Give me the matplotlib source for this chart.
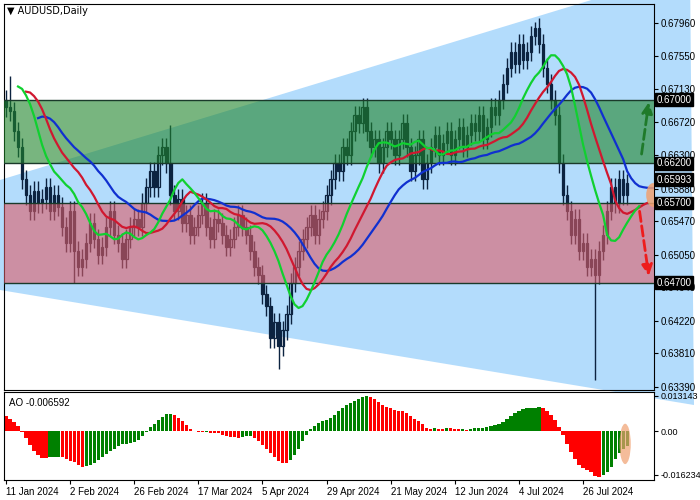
import matplotlib
matplotlib.use("Agg")
import matplotlib.pyplot as plt
import numpy as np
import pandas as pd
from matplotlib.patches import Polygon, Rectangle, Ellipse

plt.rcParams['font.family'] = ['Liberation Sans', 'DejaVu Sans']

# prior history (not drawn as candles, only feeds the indicators)
pre_closes = [0.6360,0.6380,0.6420,0.6450,0.6440,0.6480,0.6520,0.6530,0.6560,0.6570,
              0.6590,0.6610,0.6600,0.6630,0.6650,0.6620,0.6640,0.6610,0.6640,0.6680,
              0.6700,0.6720,0.6730,0.6710,0.6750,0.6780,0.6800,0.6810,0.6790,0.6760,
              0.6730,0.6710,0.6690,0.6700,0.6690]
closes = [0.6690,0.6685,0.6660,0.6640,0.6600,0.6580,0.6560,0.6585,0.6570,0.6575,
          0.6590,0.6560,0.6580,0.6565,0.6540,0.6520,0.6560,0.6510,0.6490,0.6500,
          0.6520,0.6545,0.6525,0.6505,0.6515,0.6540,0.6560,0.6530,0.6520,0.6500,
          0.6525,0.6540,0.6550,0.6540,0.6570,0.6590,0.6610,0.6590,0.6630,0.6640,
          0.6620,0.6580,0.6560,0.6575,0.6545,0.6555,0.6530,0.6540,0.6555,0.6570,
          0.6540,0.6525,0.6550,0.6545,0.6530,0.6515,0.6525,0.6540,0.6555,0.6540,
          0.6530,0.6510,0.6490,0.6480,0.6455,0.6440,0.6400,0.6420,0.6390,0.6410,
          0.6430,0.6470,0.6490,0.6510,0.6525,0.6540,0.6555,0.6530,0.6550,0.6560,
          0.6580,0.6600,0.6620,0.6610,0.6640,0.6630,0.6660,0.6680,0.6670,0.6690,
          0.6660,0.6640,0.6650,0.6620,0.6640,0.6660,0.6650,0.6630,0.6650,0.6670,
          0.6640,0.6610,0.6630,0.6650,0.6600,0.6620,0.6640,0.6655,0.6630,0.6645,
          0.6660,0.6630,0.6650,0.6665,0.6640,0.6655,0.6670,0.6660,0.6680,0.6650,
          0.6665,0.6690,0.6680,0.6700,0.6720,0.6740,0.6760,0.6745,0.6770,0.6750,
          0.6760,0.6780,0.6790,0.6770,0.6740,0.6720,0.6700,0.6680,0.6620,0.6580,
          0.6560,0.6530,0.6550,0.6510,0.6520,0.6490,0.6500,0.6480,0.6510,0.6530,
          0.6560,0.6590,0.6570,0.6600,0.6580,0.6595]
first_open = 0.6700
wick = 0.0012
special_high = {41: 0.6668, 132: 0.6798, 1: 0.6730}
special_low = {68: 0.6362, 147: 0.6347, 17: 0.6470}

date_labels = ["11 Jan 2024","2 Feb 2024","26 Feb 2024","17 Mar 2024","5 Apr 2024",
               "29 Apr 2024","21 May 2024","12 Jun 2024","4 Jul 2024","26 Jul 2024"]
price_ticks = [0.67960,0.67550,0.67130,0.66720,0.66300,0.65880,0.65470,0.65050,
               0.64640,0.64220,0.63810,0.63390]
boxed_levels = [0.67000,0.66200,0.65993,0.65700,0.64700]
green_zone = (0.6620, 0.6700)
red_zone = (0.6470, 0.6570)

c = np.array(closes)
o = np.concatenate([[first_open], c[:-1]])
n = len(c)
h = np.maximum(o, c) + wick
l = np.minimum(o, c) - wick
for k, v in special_high.items(): h[k] = v
for k, v in special_low.items(): l[k] = v
x = np.arange(n)

fig = plt.figure(figsize=(7, 5), dpi=100)
W, H = 700, 500
def fx(px): return px / W
def fy(py): return 1 - py / H

ax = fig.add_axes([fx(4), fy(390), fx(650), 386 / H])
ax.set_facecolor('none')
xmax = 161.7
ax.set_xlim(-0.5, xmax)
ymin, ymax = 0.6335, 0.6820
ax.set_ylim(ymin, ymax)

def px2x(px): return -0.5 + (px - 4) / 650 * (xmax + 0.5)
def py2y(py): return ymax - (py - 4) / 386 * (ymax - ymin)
tri = Polygon([(px2x(0), py2y(180)), (px2x(690), py2y(-30)), (px2x(694), py2y(405)), (px2x(0), py2y(290))],
              closed=True, facecolor='#b3dcfc', edgecolor='none', zorder=0, clip_on=False)
ax.add_patch(tri)

col = '#0c2340'
for i in range(n):
    ax.vlines(x[i], l[i], h[i], color=col, lw=1, zorder=2)
    bull = c[i] >= o[i]
    bh = max(abs(c[i] - o[i]), 0.00008)
    ax.add_patch(Rectangle((x[i] - 0.32, min(o[i], c[i])), 0.64, bh,
                           facecolor='none' if bull else col, edgecolor=col, lw=0.9, zorder=3))

for (a, b), fc in [(green_zone, '#1f852a'), (red_zone, '#dd5c68')]:
    ax.axhspan(a, b, facecolor=fc, alpha=0.6, zorder=4, lw=0)
    ax.axhline(a, color='#1a3a2a', lw=1, zorder=4)
    ax.axhline(b, color='#1a3a2a', lw=1, zorder=4)

pc = np.array(pre_closes)
po = np.concatenate([[pc[0]], pc[:-1]])
ph = np.maximum(po, pc) + wick
pl = np.minimum(po, pc) - wick
m = len(pc)
med_all = pd.Series(np.concatenate([(ph + pl) / 2, (h + l) / 2]))
def smma(s, p): return s.ewm(alpha=1 / p, adjust=False).mean()
jaw = smma(med_all, 13).values[m:]
teeth = smma(med_all, 8).values[m:]
lips = smma(med_all, 5).values[m:]
ax.plot(x + 8, jaw, color='#1030d0', lw=1.6, zorder=5)
ax.plot(x + 5, teeth, color='#d01830', lw=1.6, zorder=5)
ax.plot(x + 3, lips, color='#10d030', lw=1.6, zorder=5)

ax.annotate('', xy=(160.5, 0.6700), xytext=(n + 2.5, 0.6628),
            arrowprops=dict(arrowstyle='-|>', color='#1f7a2a', lw=2, ls='--', mutation_scale=16), zorder=6)
ax.annotate('', xy=(160.5, 0.6475), xytext=(n + 2, 0.6563),
            arrowprops=dict(arrowstyle='-|>', color='#ee1c1c', lw=2, ls='--', mutation_scale=16), zorder=6)
ax.add_patch(Ellipse((n + 5.5, 0.6580), 3.5, 0.0030, facecolor='#f0a070', alpha=0.85, zorder=6))

ax.yaxis.tick_right()
ax.set_yticks(price_ticks)
ax.set_yticklabels([f"{t:.5f}" for t in price_ticks], fontsize=7)
ax.tick_params(axis='y', length=3, pad=2)
ax.set_xticks([])
for lv in boxed_levels:
    ax.text(1.004, (lv - ymin) / (ymax - ymin), f"{lv:.5f}", transform=ax.transAxes, fontsize=7,
            color='white', va='center', ha='left',
            bbox=dict(boxstyle='square,pad=0.15', facecolor='black', edgecolor='black'), zorder=10)
ax.text(0.005, 0.995, "\u25BC AUDUSD,Daily", transform=ax.transAxes, fontsize=7,
        va='top', ha='left', family=['DejaVu Sans'])

ax2 = fig.add_axes([fx(4), fy(480), fx(650), 88 / H])
ax2.set_facecolor('white')
ax2.set_zorder(2)
ao_all = (med_all.rolling(5).mean() - med_all.rolling(34).mean()).values
ao = ao_all[m:]
prev = ao_all[m - 1:-1]
aocol = ['#008000' if ao[i] > prev[i] else '#ff0000' for i in range(n)]
ax2.bar(x, ao, width=0.8, color=aocol, zorder=2)
ax2.set_xlim(-0.5, xmax)
ax2.set_ylim(-0.0181, 0.0146)
ax2.add_patch(Ellipse((n - 1.5, ao[-1] / 2 - 0.002), 2.8, 0.015, facecolor='#f0a070', alpha=0.7, zorder=3))
ax2.yaxis.tick_right()
ax2.set_yticks([0.013143, 0.0, -0.016234])
ax2.set_yticklabels(["0.013143", "0.00", "-0.016234"], fontsize=6.5)
ax2.tick_params(axis='y', length=3, pad=1.5)
ax2.set_xticks(np.arange(len(date_labels)) * 16)
ax2.set_xticklabels(date_labels, fontsize=7, ha='left')
ax2.tick_params(axis='x', length=3, pad=2)
ax2.text(0.008, 0.93, "AO -0.006592", transform=ax2.transAxes, fontsize=7, va='top')

fig.savefig("out.png", dpi=100)
